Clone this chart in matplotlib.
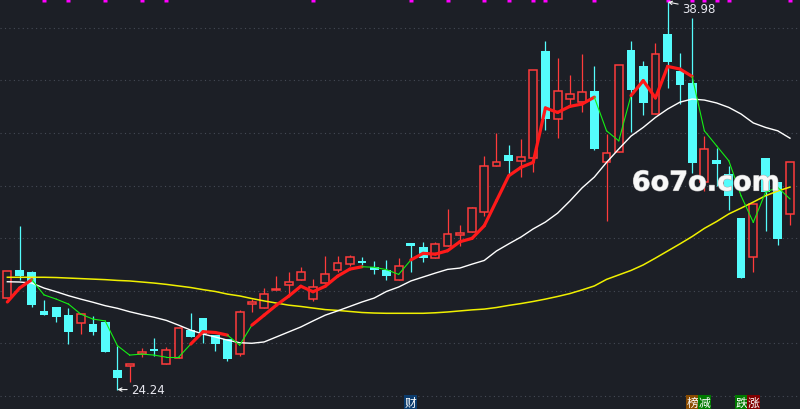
import matplotlib
matplotlib.use('Agg')
from matplotlib import pyplot as plt
from matplotlib.patches import Rectangle
import matplotlib.patheffects as pe
import numpy as np

# candle data
opens = [27.71, 28.79, 28.71, 27.23, 27.38, 27.07, 26.76, 26.72, 26.80, 24.98,
         25.15, 25.59, 25.78, 25.22, 25.43, 26.50, 26.96, 26.31, 26.16, 25.60,
         27.48, 27.33, 28.01, 28.23, 28.42, 27.68, 28.30, 28.77, 29.00, 29.14,
         28.90, 28.79, 28.39, 29.81, 29.67, 29.23, 29.69, 30.13, 30.22, 30.98,
         32.73, 33.16, 32.92, 33.06, 37.10, 34.52, 35.30, 35.17, 35.59, 32.88,
         33.26, 37.15, 36.55, 34.71, 37.77, 36.34, 35.91, 32.15, 32.97, 32.44,
         30.76, 29.27, 33.03, 32.15, 30.90]
highs = [28.74, 30.47, 28.76, 27.65, 27.38, 27.33, 27.10, 27.02, 26.80, 25.91,
         25.20, 25.82, 26.20, 25.85, 26.57, 27.15, 26.96, 26.31, 26.16, 27.28,
         27.68, 28.10, 28.55, 28.72, 28.89, 28.44, 29.32, 29.31, 29.36, 29.29,
         29.12, 29.17, 29.23, 29.81, 29.84, 29.84, 31.11, 30.50, 31.18, 33.12,
         34.00, 33.54, 33.77, 36.38, 37.50, 36.85, 36.20, 37.00, 36.55, 33.96,
         36.57, 37.50, 36.72, 37.42, 38.98, 37.03, 38.37, 33.88, 33.43, 32.75,
         30.76, 31.29, 33.03, 32.15, 32.88]
lows = [27.71, 28.41, 27.37, 27.09, 26.82, 25.98, 26.36, 26.33, 25.68, 24.24,
        24.51, 25.47, 25.50, 25.22, 25.43, 26.25, 26.00, 25.72, 25.34, 25.53,
        27.18, 27.33, 28.01, 27.81, 28.39, 27.62, 28.30, 28.70, 28.93, 28.98,
        28.65, 28.42, 28.39, 28.72, 29.08, 29.23, 29.69, 29.71, 30.22, 30.85,
        32.73, 32.44, 32.34, 32.53, 34.12, 33.81, 34.97, 34.81, 33.36, 30.66,
        33.26, 34.05, 34.69, 34.71, 35.72, 35.09, 32.46, 31.80, 31.99, 31.08,
        28.47, 28.72, 30.28, 29.75, 30.51]
closes = [28.74, 28.55, 27.45, 27.09, 27.01, 26.44, 27.10, 26.44, 25.68, 24.69,
          25.20, 25.66, 25.71, 25.73, 26.57, 26.25, 26.35, 25.98, 25.41, 27.19,
          27.56, 27.86, 28.06, 28.33, 28.71, 28.13, 28.63, 29.04, 29.28, 29.05,
          28.80, 28.57, 28.93, 29.69, 29.25, 29.76, 30.14, 30.21, 31.13, 32.73,
          32.88, 32.94, 33.08, 36.38, 34.54, 35.58, 35.47, 35.55, 33.39, 33.22,
          36.57, 35.64, 35.15, 36.99, 36.69, 35.83, 32.87, 33.38, 32.81, 31.61,
          28.47, 31.29, 31.76, 29.97, 32.88]

# short average, with its up(1)/down(0) state per segment start
ma5 = [27.57, 28.10, 28.42, 27.84, 27.68, 27.49, 27.11, 26.92, 26.85, 25.91,
       25.55, 25.59, 25.55, 25.47, 25.47, 25.97, 26.44, 26.41, 26.31, 25.93,
       26.69, 27.07, 27.45, 27.79, 28.17, 27.96, 28.17, 28.55, 28.82, 28.91,
       28.89, 28.80, 28.62, 29.17, 29.42, 29.39, 29.52, 29.86, 29.99, 30.47,
       31.42, 32.37, 32.69, 32.88, 34.95, 34.78, 35.01, 35.10, 35.36, 34.08,
       33.70, 35.42, 35.99, 35.33, 36.53, 36.43, 36.15, 34.08, 33.51, 32.94,
       31.61, 30.60, 31.74, 31.93, 31.49]
ma5_state = [1, 1, 0, 0, 0, 0, 0, 0, 0, 0, 0, 0, 0, 0, 0, 1, 1, 1, 0, 0,
             1, 1, 1, 1, 1, 1, 1, 1, 1, 0, 0, 0, 0, 1, 1, 1, 1, 1, 1, 1,
             1, 1, 1, 1, 1, 1, 1, 1, 0, 0, 0, 1, 1, 1, 1, 1, 0, 0, 0, 0,
             0, 0, 0, 0, 0]
ma20 = [28.34, 28.33, 28.29, 28.10, 27.96, 27.81, 27.68, 27.56, 27.43, 27.33,
        27.20, 27.09, 26.99, 26.87, 26.69, 26.50, 26.35, 26.24, 26.12, 26.02,
        26.00, 26.05, 26.24, 26.43, 26.62, 26.85, 27.07, 27.23, 27.40, 27.57,
        27.72, 27.97, 28.14, 28.37, 28.52, 28.67, 28.81, 28.86, 29.01, 29.15,
        29.51, 29.78, 30.04, 30.35, 30.61, 30.95, 31.41, 31.91, 32.32, 32.88,
        33.39, 33.88, 34.21, 34.59, 34.91, 35.17, 35.29, 35.25, 35.14, 34.97,
        34.72, 34.38, 34.21, 34.08, 33.80]
ma60 = [28.51, 28.51, 28.51, 28.51, 28.50, 28.48, 28.46, 28.44, 28.42, 28.39,
        28.37, 28.33, 28.29, 28.24, 28.18, 28.12, 28.04, 27.97, 27.87, 27.80,
        27.70, 27.61, 27.53, 27.45, 27.40, 27.34, 27.28, 27.25, 27.21, 27.17,
        27.15, 27.14, 27.14, 27.14, 27.14, 27.16, 27.19, 27.23, 27.27, 27.30,
        27.36, 27.44, 27.51, 27.59, 27.68, 27.78, 27.89, 28.03, 28.18, 28.43,
        28.60, 28.77, 28.98, 29.24, 29.51, 29.78, 30.06, 30.37, 30.63, 30.92,
        31.14, 31.37, 31.61, 31.79, 31.94]

# event markers
top_marks = [3, 5, 8, 11, 13, 25, 33, 36, 39, 41, 43, 44, 48, 54, 56, 57, 58, 59, 64]
tags = [(33, '财', '#0b3c6e'), (56, '榜', '#8a4b00'), (57, '减', '#007a00'),
        (60, '跌', '#007a00'), (61, '涨', '#800000')]
low_label = (9, 24.24)
high_label = (54, 38.98)
grid_levels = [24, 26, 28, 30, 32, 34, 36, 38]

bg = '#1c1f26'
red = '#ff3b3b'
cyan = '#54fcfc'

fig = plt.figure(figsize=(8, 4.1), dpi=100)
fig.patch.set_facecolor(bg)
ax = fig.add_axes([0, 0, 1, 1])
ax.set_facecolor(bg)
ax.set_xlim(-0.6, 64.82)
ax.set_ylim(23.50, 39.094)
ax.axis('off')

#dotted grid
for g in grid_levels:
    ax.axhline(g, color='#454a55', lw=0.8, ls=(0, (1, 3)), zorder=0)

#candles
for i in range(len(opens)):
    o, h, l, c = opens[i], highs[i], lows[i], closes[i]
    if c >= o:
        ax.vlines(i, l, h, color=red, lw=0.9, zorder=2)
        ax.add_patch(Rectangle((i - 0.32, o), 0.64, max(c - o, 0.03),
                               facecolor=bg, edgecolor=red, lw=1.1, zorder=3))
    else:
        ax.vlines(i, l, h, color=cyan, lw=0.9, zorder=2)
        ax.add_patch(Rectangle((i - 0.36, c), 0.72, o - c,
                               facecolor=cyan, edgecolor='none', zorder=3))

x = np.arange(len(opens))

#averages
ax.plot(x, ma60, color='#f0f000', lw=1.1, zorder=4)
ax.plot(x, ma20, color='#ffffff', lw=1.0, zorder=4)
for i in range(len(ma5) - 1):
    if ma5_state[i]:
        ax.plot(x[i:i + 2], ma5[i:i + 2], color='#ff1a1a', lw=2.3,
                solid_capstyle='round', zorder=5)
    else:
        ax.plot(x[i:i + 2], ma5[i:i + 2], color='#14f014', lw=0.8, zorder=5)

#top markers
ax.plot(top_marks, [39.06] * len(top_marks), 's', color='#ff00ff', ms=2.3,
        mec='none', zorder=6)

#extreme labels
arrow = dict(arrowstyle='->', color='#f0f0f0', lw=0.8, shrinkA=1, shrinkB=0,
             mutation_scale=6)
ax.annotate(f'{low_label[1]:.2f}', xy=low_label, xytext=(10, 0),
            textcoords='offset points', ha='left', va='center',
            color='#e8e8f0', fontsize=8.5, arrowprops=arrow, zorder=7)
ax.annotate(f'{high_label[1]:.2f}', xy=high_label, xytext=(10.5, -4.5),
            textcoords='offset points', ha='left', va='center',
            color='#e8e8f0', fontsize=8.5, arrowprops=arrow, zorder=7)

#bottom tags
for pos, txt, col in tags:
    ax.text(pos, 23.76, txt, ha='center', va='center', color='white',
            fontsize=8.5, family=['Noto Sans CJK SC', 'DejaVu Sans'],
            bbox=dict(boxstyle='square,pad=0.05', facecolor=col, edgecolor='none'),
            zorder=7)

#watermark
ax.text(0.8825, 0.55, '6o7o.com', transform=ax.transAxes, ha='center',
        va='center', color='#f8f8f8', fontsize=19.5, fontweight='bold',
        path_effects=[pe.withStroke(linewidth=0.8, foreground='#b0b0b0')],
        zorder=8)

plt.savefig('out.png', dpi=100, facecolor=bg)
plt.close()
